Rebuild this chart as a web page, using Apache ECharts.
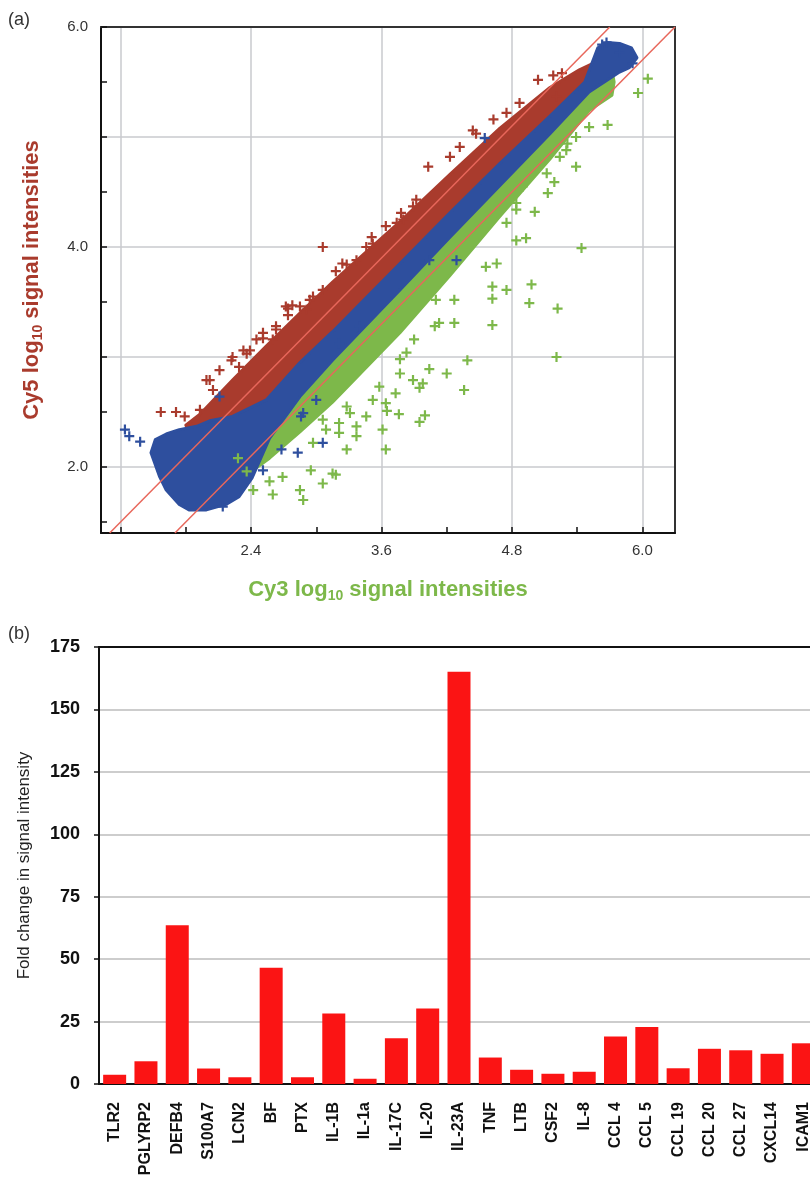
<!DOCTYPE html>
<html>
<head>
<meta charset="utf-8">
<script src="https://cdn.jsdelivr.net/npm/echarts@6/dist/echarts.min.js"></script>
<style>
html, body { margin: 0; padding: 0; background: #fff; }
#chart { width: 810px; height: 1182px; }
</style>
</head>
<body>
<div id="chart"></div>
<script>
// ---- panel (a): Cy3 vs Cy5 log10 intensities ----
const xTicks = [1.2, 1.8, 2.4, 3.0, 3.6, 4.2, 4.8, 5.4, 6.0];
const xLabels = [2.4, 3.6, 4.8, 6.0];
const xGrid = [1.2, 2.4, 3.6, 4.8, 6.0];
const yTicks = [1.5, 2.0, 2.5, 3.0, 3.5, 4.0, 4.5, 5.0, 5.5, 6.0];
const yLabels = [2.0, 4.0, 6.0];
const yGrid = [2.0, 3.0, 4.0, 5.0];

// two-fold lines
const upperLine = [[1.10, 1.40], [5.70, 6.00]];
const lowerLine = [[1.70, 1.40], [6.30, 6.00]];

// outlines of the dense clouds
const redBand = [[1.80, 2.38], [1.93, 2.48], [2.23, 2.79], [2.54, 3.10], [2.85, 3.40], [3.15, 3.68], [3.77, 4.23], [4.23, 4.66], [4.69, 5.08], [5.15, 5.45], [5.42, 5.61], [5.57, 5.68], [5.61, 5.56], [5.47, 5.42], [5.15, 5.12], [4.69, 4.69], [4.23, 4.24], [3.77, 3.78], [3.15, 3.16], [2.85, 2.87], [2.54, 2.54], [2.23, 2.39], [2.02, 2.35], [1.83, 2.32]];
const blueBand = [[1.48, 2.13], [1.52, 2.25], [1.62, 2.30], [1.74, 2.34], [1.90, 2.37], [2.02, 2.42], [2.23, 2.46], [2.54, 2.61], [2.85, 2.95], [3.15, 3.23], [3.77, 3.85], [4.23, 4.31], [4.69, 4.76], [5.15, 5.19], [5.47, 5.50], [5.59, 5.81], [5.68, 5.86], [5.79, 5.85], [5.90, 5.81], [5.95, 5.72], [5.88, 5.63], [5.79, 5.59], [5.51, 5.41], [5.15, 5.03], [4.69, 4.56], [4.23, 4.09], [3.77, 3.61], [3.15, 2.97], [2.85, 2.64], [2.57, 2.26], [2.41, 1.90], [2.29, 1.73], [2.17, 1.66], [1.99, 1.61], [1.83, 1.61], [1.74, 1.66], [1.62, 1.79], [1.56, 1.91]];
const greenBand = [[2.29, 1.97], [2.57, 2.34], [2.85, 2.71], [3.15, 3.04], [3.77, 3.69], [4.23, 4.16], [4.69, 4.63], [5.15, 5.10], [5.51, 5.48], [5.72, 5.61], [5.74, 5.50], [5.72, 5.38], [5.51, 5.24], [5.15, 4.80], [4.69, 4.28], [4.23, 3.74], [3.77, 3.22], [3.15, 2.59], [2.85, 2.32], [2.57, 2.08], [2.39, 1.95], [2.29, 1.88], [2.26, 1.92]];

// single spots around the clouds
const redPoints = [[1.57, 2.50], [1.71, 2.50], [1.79, 2.46], [1.93, 2.52], [1.99, 2.79], [2.02, 2.79], [2.05, 2.70], [2.11, 2.88], [2.22, 2.97], [2.23, 3.00], [2.29, 2.91], [2.33, 3.06], [2.36, 3.03], [2.39, 3.06], [2.45, 3.16], [2.51, 3.22], [2.51, 3.17], [2.60, 3.16], [2.63, 3.28], [2.63, 3.25], [2.72, 3.46], [2.74, 3.44], [2.74, 3.38], [2.78, 3.47], [2.85, 3.46], [2.91, 3.43], [2.94, 3.52], [2.97, 3.55], [3.06, 3.61], [3.06, 4.00], [3.18, 3.78], [3.24, 3.85], [3.28, 3.84], [3.37, 3.88], [3.46, 4.00], [3.51, 4.09], [3.52, 4.03], [3.64, 4.19], [3.74, 4.22], [3.78, 4.31], [3.80, 4.25], [3.89, 4.37], [3.92, 4.43], [4.03, 4.73], [4.23, 4.82], [4.32, 4.91], [4.44, 5.06], [4.47, 5.03], [4.63, 5.16], [4.75, 5.22], [4.87, 5.31], [5.04, 5.52], [5.18, 5.56], [5.21, 5.37], [5.26, 5.58]];
const bluePoints = [[1.24, 2.34], [1.28, 2.28], [1.38, 2.23], [2.11, 2.64], [2.14, 1.64], [2.51, 1.97], [2.68, 2.16], [2.83, 2.13], [2.86, 2.46], [2.88, 2.49], [3.00, 2.61], [3.06, 2.22], [3.21, 3.12], [3.40, 3.28], [4.04, 3.88], [4.29, 3.88], [4.55, 4.99], [5.63, 5.84], [5.67, 5.86], [5.79, 5.77], [5.91, 5.67]];
const greenPoints = [[2.28, 2.08], [2.36, 1.96], [2.42, 1.79], [2.57, 1.87], [2.60, 1.75], [2.69, 1.91], [2.85, 1.79], [2.88, 1.70], [2.95, 1.97], [2.97, 2.22], [3.06, 1.85], [3.06, 2.43], [3.09, 2.34], [3.15, 1.94], [3.18, 1.93], [3.21, 2.31], [3.21, 2.40], [3.28, 2.16], [3.28, 2.55], [3.31, 2.49], [3.37, 2.28], [3.37, 2.37], [3.46, 2.46], [3.52, 2.61], [3.58, 2.73], [3.61, 2.34], [3.64, 2.16], [3.64, 2.58], [3.65, 2.51], [3.73, 2.67], [3.76, 2.48], [3.77, 2.85], [3.77, 2.98], [3.83, 3.04], [3.89, 2.79], [3.90, 3.16], [3.95, 2.72], [3.95, 2.41], [3.98, 2.76], [4.00, 2.47], [4.04, 2.89], [4.09, 3.28], [4.10, 3.52], [4.13, 3.31], [4.20, 2.85], [4.27, 3.31], [4.27, 3.52], [4.36, 2.70], [4.39, 2.97], [4.56, 3.82], [4.62, 3.53], [4.62, 3.29], [4.62, 3.64], [4.66, 3.85], [4.75, 4.22], [4.75, 3.61], [4.84, 4.06], [4.84, 4.34], [4.84, 4.40], [4.90, 4.55], [4.93, 4.08], [4.96, 3.49], [4.98, 3.66], [5.01, 4.32], [5.05, 4.76], [5.12, 4.67], [5.13, 4.49], [5.19, 4.59], [5.21, 3.00], [5.22, 3.44], [5.24, 4.82], [5.30, 4.88], [5.31, 4.94], [5.39, 5.00], [5.39, 4.73], [5.44, 3.99], [5.51, 5.09], [5.68, 5.11], [5.96, 5.40], [6.05, 5.53]];

// ---- panel (b): fold change ----
const genes = ['TLR2', 'PGLYRP2', 'DEFB4', 'S100A7', 'LCN2', 'BF', 'PTX', 'IL-1B', 'IL-1a', 'IL-17C', 'IL-20', 'IL-23A', 'TNF', 'LTB', 'CSF2', 'IL-8', 'CCL 4', 'CCL 5', 'CCL 19', 'CCL 20', 'CCL 27', 'CXCL14', 'ICAM1'];
const foldChange = [3.7, 9.1, 63.6, 6.2, 2.7, 46.6, 2.7, 28.2, 2.1, 18.3, 30.2, 165.1, 10.6, 5.7, 4.1, 4.9, 19.0, 22.8, 6.3, 14.1, 13.5, 12.1, 16.3];

const FONT = '"Liberation Sans", Arial, Helvetica, sans-serif';
const RED = '#a93b2d';
const BLUE = '#2e4f9e';
const GREEN = '#7db84a';
const LINE = '#e8675b';
const PLUS = 'path://M3.9,0H6.1V3.9H10V6.1H6.1V10H3.9V6.1H0V3.9H3.9Z';

function band(points, color, z) {
    return {
        type: 'custom', xAxisIndex: 0, yAxisIndex: 0, z: z, silent: true,
        data: [points[0]],
        renderItem: function (params, api) {
            return {
                type: 'polygon',
                shape: { points: points.map(function (p) { return api.coord(p); }) },
                style: { fill: color, stroke: color, lineWidth: 3, lineJoin: 'round' }
            };
        }
    };
}

function crosses(points, color, z) {
    return {
        type: 'scatter', xAxisIndex: 0, yAxisIndex: 0, z: z, silent: true,
        symbol: PLUS, symbolSize: 10,
        itemStyle: { color: color, opacity: 1 },
        data: points
    };
}

function foldLine(points) {
    return {
        type: 'line', xAxisIndex: 0, yAxisIndex: 0, z: 10, silent: true,
        symbol: 'none', data: points,
        lineStyle: { color: LINE, width: 1.5 }
    };
}

function titleRich(color) {
    return {
        t: { fontFamily: FONT, fontSize: 22, fontWeight: 'bold', color: color, lineHeight: 26 },
        s: { fontFamily: FONT, fontSize: 14, fontWeight: 'bold', color: color, lineHeight: 14, padding: [14, 0, 0, 0], verticalAlign: 'bottom' }
    };
}

const chart = echarts.init(document.getElementById('chart'));

const option = {
    animation: false,
    backgroundColor: '#fff',
    textStyle: { fontFamily: FONT },
    graphic: [
        { type: 'text', left: 8, top: 11, style: { text: '(a)', fontSize: 18, fontFamily: FONT, fill: '#333' } },
        { type: 'text', left: 8, top: 625, style: { text: '(b)', fontSize: 18, fontFamily: FONT, fill: '#333' } }
    ],
    grid: [
        { left: 101, top: 27, width: 574, height: 506, outerBoundsMode: 'none' },
        { left: 99, top: 647, width: 720, height: 437, outerBoundsMode: 'none' }
    ],
    xAxis: [
        {
            gridIndex: 0, type: 'value', position: 'bottom', min: 1.02, max: 6.3,
            axisLine: { lineStyle: { color: '#111', width: 2 } },
            axisTick: { inside: true, length: 6, customValues: xTicks, lineStyle: { color: '#111', width: 1.5 } },
            axisLabel: { customValues: xLabels, formatter: function (v) { return v.toFixed(1); }, fontSize: 15, color: '#333', margin: 10, fontFamily: FONT },
            splitLine: { show: false },
            name: '{t|Cy3 log}{s|10}{t| signal intensities}',
            nameLocation: 'middle', nameGap: 44,
            nameTextStyle: { rich: titleRich(GREEN) }
        },
        {
            gridIndex: 0, type: 'value', position: 'top', min: 1.02, max: 6.3,
            axisLine: { show: true, lineStyle: { color: '#333', width: 2 } },
            axisTick: { show: false, customValues: xGrid },
            axisLabel: { show: false },
            splitLine: { show: true, lineStyle: { color: '#c9cace', width: 1.5 } }
        },
        {
            gridIndex: 1, type: 'category', data: genes, position: 'bottom',
            axisLine: { lineStyle: { color: '#111', width: 2 } },
            axisTick: { show: false },
            axisLabel: { interval: 0, rotate: 90, fontSize: 16, fontWeight: 'bold', color: '#111', margin: 18, fontFamily: FONT },
            splitLine: { show: false }
        },
        {
            gridIndex: 1, type: 'category', data: genes, position: 'top',
            axisLine: { show: true, lineStyle: { color: '#111', width: 2 } },
            axisTick: { show: false },
            axisLabel: { show: false }
        }
    ],
    yAxis: [
        {
            gridIndex: 0, type: 'value', position: 'left', min: 1.4, max: 6.0,
            axisLine: { show: true, lineStyle: { color: '#111', width: 2 } },
            axisTick: { show: true, inside: true, length: 6, customValues: yTicks, lineStyle: { color: '#111', width: 1.5 } },
            axisLabel: { customValues: yLabels, formatter: function (v) { return v.toFixed(1); }, fontSize: 15, color: '#333', margin: 13, fontFamily: FONT },
            splitLine: { show: false },
            name: '{t|Cy5 log}{s|10}{t| signal intensities}',
            nameLocation: 'middle', nameRotate: 90, nameGap: 56,
            nameTextStyle: { rich: titleRich(RED) }
        },
        {
            gridIndex: 0, type: 'value', position: 'right', min: 1.4, max: 6.0,
            axisLine: { show: true, lineStyle: { color: '#333', width: 2 } },
            axisTick: { show: false, customValues: yGrid },
            axisLabel: { show: false },
            splitLine: { show: true, lineStyle: { color: '#c9cace', width: 1.5 } }
        },
        {
            gridIndex: 1, type: 'value', min: 0, max: 175, interval: 25,
            axisLine: { show: true, lineStyle: { color: '#111', width: 2 } },
            axisTick: { show: true, length: 5, lineStyle: { color: '#111', width: 1.5 } },
            axisLabel: { fontSize: 18, fontWeight: 'bold', color: '#111', margin: 19, fontFamily: FONT },
            splitLine: { show: true, lineStyle: { color: '#bdbdbd', width: 1.5 } },
            name: 'Fold change in signal intensity',
            nameLocation: 'middle', nameRotate: 90, nameGap: 66,
            nameTextStyle: { fontSize: 17, color: '#222', fontFamily: FONT }
        }
    ],
    series: [
        band(redBand, RED, 2),
        band(greenBand, GREEN, 2),
        band(blueBand, BLUE, 2),
        crosses(redPoints, RED, 3),
        crosses(greenPoints, GREEN, 3),
        crosses(bluePoints, BLUE, 4),
        foldLine(upperLine),
        foldLine(lowerLine),
        {
            type: 'bar', xAxisIndex: 2, yAxisIndex: 2, data: foldChange,
            barWidth: 23, silent: true,
            itemStyle: { color: '#fb1414' }
        }
    ]
};

chart.setOption(option);
</script>
</body>
</html>
